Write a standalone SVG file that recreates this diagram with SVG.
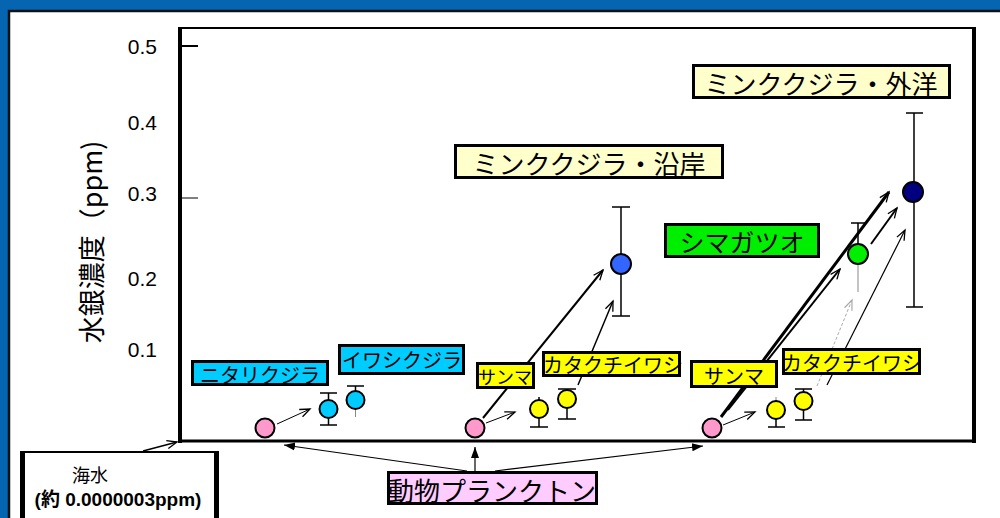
<svg xmlns="http://www.w3.org/2000/svg" width="1000" height="518" viewBox="0 0 1000 518">
<style>
.lbl{font-family:"Noto Sans CJK JP","Liberation Sans",sans-serif;fill:#000;dominant-baseline:central;text-anchor:middle}
.ax{font-family:"Liberation Sans","Noto Sans CJK JP",sans-serif;font-size:21px;fill:#000;text-anchor:end;dominant-baseline:central}
.box{stroke:#000;stroke-width:3}
.pt{stroke:#000;stroke-width:2}
.eb{stroke:#000;stroke-width:1.5;fill:none}
.ebg{stroke:#888;stroke-width:1;fill:none}
.arr{stroke:#000;fill:none;marker-end:url(#open)}
.farr{stroke:#000;stroke-width:1.2;fill:none;marker-end:url(#solid)}
</style>
<defs>
<marker id="open" markerUnits="userSpaceOnUse" markerWidth="14" markerHeight="12" refX="11" refY="5" orient="auto">
<path d="M1,1 L11,5 L1,9" fill="none" stroke="#000" stroke-width="1.3"/>
</marker>
<marker id="openg" markerUnits="userSpaceOnUse" markerWidth="14" markerHeight="12" refX="11" refY="5" orient="auto">
<path d="M1,1 L11,5 L1,9" fill="none" stroke="#aaa" stroke-width="1.2"/>
</marker>
<marker id="solid" markerUnits="userSpaceOnUse" markerWidth="14" markerHeight="12" refX="11" refY="5" orient="auto">
<path d="M0,1 L11,5 L0,9 Z" fill="#000"/>
</marker>
</defs>
<g id="background">
<rect x="0" y="0" width="1000" height="518" fill="#fff"/>
<rect x="0" y="0" width="1000" height="10" fill="#0565b0"/>
<rect x="0" y="0" width="8" height="518" fill="#0565b0"/>
<path d="M9,518 V11 H1000" fill="none" stroke="#111" stroke-width="2.5"/>
</g>
<g id="axes">
<line x1="180" y1="28" x2="974" y2="28" stroke="#000" stroke-width="2"/>
<line x1="180" y1="27" x2="180" y2="443" stroke="#000" stroke-width="4"/>
<line x1="974" y1="27" x2="974" y2="443" stroke="#000" stroke-width="4"/>
<line x1="178" y1="441" x2="976" y2="441" stroke="#000" stroke-width="3"/>
<line x1="182" y1="46" x2="198" y2="46" stroke="#000" stroke-width="2"/>
<line x1="182" y1="198" x2="198" y2="198" stroke="#000" stroke-width="1"/>
<text class="ax" x="157" y="46">0.5</text>
<text class="ax" x="157" y="122">0.4</text>
<text class="ax" x="157" y="193">0.3</text>
<text class="ax" x="157" y="278">0.2</text>
<text class="ax" x="157" y="349">0.1</text>
<text x="90" y="242" transform="rotate(-90 90 242)" style="font-family:'Noto Sans CJK JP','Liberation Sans',sans-serif;font-size:27px;text-anchor:middle;dominant-baseline:central">水銀濃度（ppm)</text>
</g>
<g id="connectors">
<line class="arr" x1="143" y1="451" x2="177" y2="442" stroke-width="1.5"/>
<line class="arr" x1="277" y1="424" x2="310" y2="409" stroke-width="1"/>
<line class="arr" x1="486" y1="423" x2="515" y2="412" stroke-width="1"/>
<line class="arr" x1="483" y1="418" x2="603" y2="270" stroke-width="2"/>
<line class="arr" x1="578" y1="385" x2="613" y2="301" stroke-width="1.5"/>
<line class="arr" x1="723" y1="425" x2="755" y2="412" stroke-width="1"/>
<line class="arr" x1="721" y1="417" x2="889" y2="192" stroke-width="3"/>
<line class="arr" x1="728" y1="410" x2="840" y2="269" stroke-width="2"/>
<line class="arr" x1="871" y1="244" x2="897" y2="208" stroke-width="2"/>
<line class="arr" x1="827" y1="385" x2="905" y2="230" stroke-width="1.2"/>
<line x1="817" y1="386" x2="852" y2="300" stroke="#aaa" stroke-width="1" stroke-dasharray="3,2" marker-end="url(#openg)"/>
<line class="farr" x1="467" y1="471" x2="284" y2="445"/>
<line class="farr" x1="495" y1="471" x2="703" y2="446"/>
<line class="farr" x1="475" y1="471" x2="475" y2="447"/>
</g>
<g id="points">
<g id="plankton1"><circle class="pt" cx="265" cy="428" r="9.5" fill="#ff99cc"/></g>
<g id="plankton2"><circle class="pt" cx="475" cy="428" r="9.5" fill="#ff99cc"/></g>
<g id="plankton3"><circle class="pt" cx="712" cy="428" r="9.5" fill="#ff99cc"/></g>
<g id="nitari">
<path class="eb" d="M320,393 H337 M328.5,393 V425 M320,425 H337"/>
<circle class="pt" cx="328.5" cy="409" r="9" fill="#00ccff"/>
</g>
<g id="iwashi">
<path class="eb" d="M347,386 H364 M355.5,386 V392"/>
<path class="ebg" d="M355.5,408 V417"/>
<circle class="pt" cx="355.5" cy="400" r="9" fill="#00ccff"/>
</g>
<g id="sanma1">
<path class="eb" d="M539,397 V427 M530,427 H548"/>
<circle class="pt" cx="539" cy="409" r="9" fill="#ffff00"/>
</g>
<g id="kata1">
<path class="eb" d="M558,389 H576 M567,389 V419 M558,419 H576"/>
<circle class="pt" cx="567" cy="399" r="9" fill="#ffff00"/>
</g>
<g id="minke-coast">
<path class="eb" d="M612,207 H630 M621,207 V316 M612,316 H630"/>
<circle class="pt" cx="621" cy="264" r="10" fill="#3366ff"/>
</g>
<g id="sanma2">
<path class="ebg" d="M776,397 V402"/>
<path class="eb" d="M776,418 V427 M768,427 H785"/>
<circle class="pt" cx="776" cy="410" r="9" fill="#ffff00"/>
</g>
<g id="kata2">
<path class="eb" d="M795,389 H812 M803.5,389 V420 M795,420 H812"/>
<circle class="pt" cx="803.5" cy="401" r="9" fill="#ffff00"/>
</g>
<g id="shimagatsuo">
<path class="eb" d="M851,223 H867 M858,223 V246"/>
<path class="ebg" d="M858,264 V292"/>
<circle class="pt" cx="858" cy="254" r="10" fill="#00ee00"/>
</g>
<g id="minke-ocean">
<path class="eb" d="M906,113 H923 M914,113 V307 M906,307 H923"/>
<circle class="pt" cx="913" cy="192" r="10" fill="#000080"/>
</g>
</g>
<g id="label-nitari"><rect class="box" x="192.5" y="361.5" width="135" height="23" fill="#00ccff"/><text class="lbl" x="260" y="374" font-size="20">ニタリクジラ</text></g>
<g id="label-iwashi"><rect class="box" x="339.5" y="345.5" width="124" height="28" fill="#00ccff"/><text class="lbl" x="402" y="359" font-size="20">イワシクジラ</text></g>
<g id="label-sanma1"><rect class="box" x="477.5" y="363.5" width="56" height="24" fill="#ffff00"/><text class="lbl" x="505" y="376" font-size="18">サンマ</text></g>
<g id="label-kata1"><rect class="box" x="543.5" y="352.5" width="136" height="23" fill="#ffff00"/><text class="lbl" x="613" y="364" font-size="20">カタクチイワシ</text></g>
<g id="label-minke-coast"><rect class="box" x="455.5" y="145.5" width="267" height="32" fill="#ffffcc"/><text class="lbl" x="589" y="162" font-size="26">ミンククジラ・沿岸</text></g>
<g id="label-shimagatsuo"><rect class="box" x="665.5" y="224.5" width="153" height="32" fill="#00ee00"/><text class="lbl" x="742" y="241" font-size="25">シマガツオ</text></g>
<g id="label-minke-ocean"><rect class="box" x="693.5" y="65.5" width="256" height="32" fill="#ffffcc"/><text class="lbl" x="821" y="82" font-size="26">ミンククジラ・外洋</text></g>
<g id="label-sanma2"><rect class="box" x="691.5" y="361.5" width="85" height="25" fill="#ffff00"/><text class="lbl" x="734" y="375" font-size="20">サンマ</text></g>
<g id="label-kata2"><rect class="box" x="783.5" y="349.5" width="136" height="24" fill="#ffff00"/><text class="lbl" x="852" y="362" font-size="20">カタクチイワシ</text></g>
<g id="label-plankton"><rect class="box" x="388.5" y="472.5" width="208" height="31" fill="#ffccff"/><text class="lbl" x="492" y="489" font-size="26">動物プランクトン</text></g>
<g id="label-seawater">
<rect x="21" y="452" width="197" height="80" fill="#fff" stroke="#000" stroke-width="2"/>
<line x1="23" y1="452" x2="23" y2="518" stroke="#000" stroke-width="4"/>
<line x1="216" y1="452" x2="216" y2="518" stroke="#000" stroke-width="4"/>
<text class="lbl" x="90" y="474" font-size="18">海水</text>
<text class="lbl" x="118" y="499" font-size="19" font-weight="bold" style="font-family:'Liberation Sans','Noto Sans CJK JP',sans-serif">(約 0.0000003ppm)</text>
</g>
</svg>
